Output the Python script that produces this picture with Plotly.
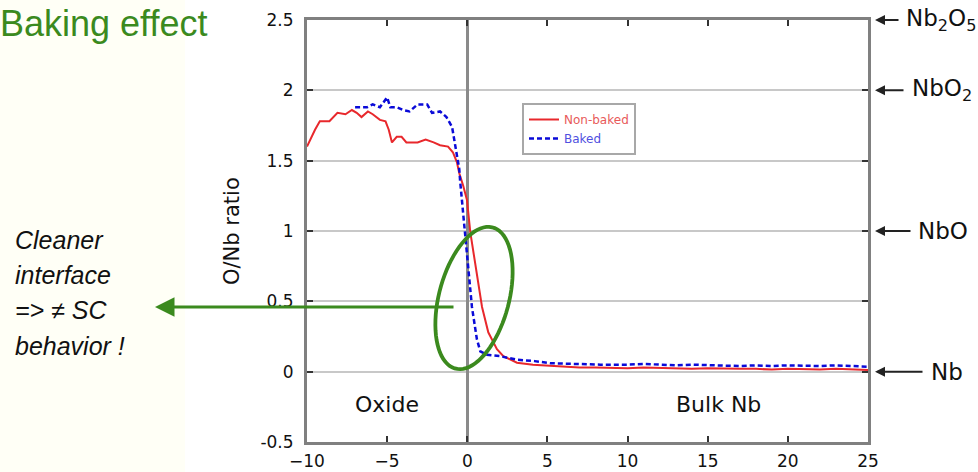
import numpy as np
import plotly.graph_objects as go

# ---------------- data ----------------
nonbaked_x = [-10, -9.8, -9.5, -9.2, -8.6, -8.1, -7.6, -7.2, -6.9, -6.6, -6.2, -5.9, -5.45, -5.1,
              -4.9, -4.7, -4.4, -4.1, -3.8, -3.1, -2.6, -2.1, -1.7, -1.2, -0.9, -0.65, -0.5, -0.25,
              -0.02, 0.19, 0.5, 0.92, 1.31, 1.85, 2.25, 3.1, 4.1, 5.8,
              7, 8, 9, 10, 11, 12, 13, 14, 15, 16, 17, 18, 19, 20, 21, 22, 23, 24, 25]
nonbaked_y = [1.60, 1.65, 1.72, 1.78, 1.78, 1.84, 1.83, 1.86, 1.84, 1.81, 1.85, 1.83, 1.79, 1.78,
              1.72, 1.63, 1.67, 1.67, 1.63, 1.63, 1.65, 1.63, 1.61, 1.60, 1.56, 1.49, 1.41, 1.32,
              1.22, 0.99, 0.77, 0.46, 0.28, 0.16, 0.11, 0.064, 0.05, 0.036,
              0.03, 0.03, 0.025, 0.025, 0.03, 0.025, 0.02, 0.02, 0.025, 0.02, 0.02, 0.02, 0.015,
              0.02, 0.015, 0.015, 0.02, 0.015, 0.012]

baked_x = [-7.0, -6.6, -6.25, -5.9, -5.45, -5.0, -4.8, -4.4, -4.0, -3.6, -3.1, -2.5, -2.2, -1.7,
           -1.3, -0.95, -0.85, -0.75, -0.65, -0.5, -0.45, -0.33, -0.12, 0.08, 0.29, 0.6, 0.81,
           1.23, 2.06, 3.1, 4.2, 5.2, 6.5, 8.3,
           10, 11, 12, 13, 14, 15, 16, 17, 18, 19, 20, 21, 22, 23, 24, 25]
baked_y = [1.88, 1.88, 1.88, 1.90, 1.88, 1.95, 1.88, 1.88, 1.86, 1.85, 1.90, 1.90, 1.84, 1.85,
           1.81, 1.74, 1.67, 1.60, 1.53, 1.44, 1.36, 1.22, 0.99, 0.75, 0.46, 0.23, 0.145,
           0.12, 0.11, 0.085, 0.075, 0.06, 0.055, 0.05,
           0.05, 0.055, 0.05, 0.045, 0.05, 0.045, 0.045, 0.04, 0.045, 0.04, 0.045, 0.04, 0.04,
           0.045, 0.04, 0.035]

x_ticks = [-10, -5, 0, 5, 10, 15, 20, 25]
y_ticks = [-0.5, 0, 0.5, 1, 1.5, 2, 2.5]
phase_levels = [2.5, 2, 1, 0]
phase_labels = ["Nb<sub>2</sub>O<sub>5</sub>", "NbO<sub>2</sub>", "NbO", "Nb"]
region_labels = ["Oxide", "Bulk Nb"]
region_pos = [(-5.0, -0.23), (15.7, -0.23)]
side_lines = ["Cleaner", "interface", "=> \u2260 SC", "behavior !"]

# ---------------- geometry ----------------
W, H = 978, 472
L, R, T, B = 307, 110, 20, 30
PW, PH = W - L - R, H - T - B
XR = [-10, 25]
YR = [-0.5, 2.5]


def pxx(px):
    return (px - L) / PW


def pyy(py):
    return (H - B - py) / PH


def d_from_px(px, py):
    return (XR[0] + (px - L) / PW * (XR[1] - XR[0]),
            YR[0] + (H - B - py) / PH * (YR[1] - YR[0]))


GREEN = "#3b8a1e"

fig = go.Figure()
fig.add_trace(go.Scatter(x=nonbaked_x, y=nonbaked_y, mode="lines",
                         name='<span style="color:#e85a5a">Non-baked</span>',
                         line=dict(color="#e8282c", width=2)))
fig.add_trace(go.Scatter(x=baked_x, y=baked_y, mode="lines",
                         name='<span style="color:#5050e0">Baked</span>',
                         line=dict(color="#0a0ad8", width=2.5, dash="5px,3px")))

shapes = []
# cream side panel
shapes.append(dict(type="rect", xref="paper", yref="paper",
                   x0=pxx(0), x1=pxx(185), y0=pyy(H), y1=pyy(0),
                   fillcolor="#fffff6", line=dict(width=0), layer="below"))
# ellipse highlight
cx, cy, a, b, th = 474, 298, 73, 35, np.deg2rad(14.8)
t = np.linspace(0, 2 * np.pi, 80)
ex = cx + b * np.cos(t) * np.cos(th) - a * np.sin(t) * np.sin(th)
ey = cy + b * np.cos(t) * np.sin(th) + a * np.sin(t) * np.cos(th)
pts = [d_from_px(u, v) for u, v in zip(ex, ey)]
path = "M " + " L ".join(f"{p[0]:.4f},{p[1]:.4f}" for p in pts) + " Z"
shapes.append(dict(type="path", xref="x", yref="y", path=path,
                   line=dict(color=GREEN, width=3.8)))

annotations = []
# title
annotations.append(dict(text="Baking effect", xref="paper", yref="paper",
                        x=pxx(-2), y=pyy(24), xanchor="left", yanchor="middle",
                        showarrow=False,
                        font=dict(family="Liberation Sans, Arial", size=36, color=GREEN)))
# side text
for line, yc in zip(side_lines, [240, 275, 310, 346]):
    annotations.append(dict(text=f"<i>{line}</i>", xref="paper", yref="paper",
                            x=pxx(13), y=pyy(yc), xanchor="left", yanchor="middle",
                            showarrow=False,
                            font=dict(family="Liberation Sans, Arial", size=25, color="#111")))
# green arrow
annotations.append(dict(text="", xref="paper", yref="paper", x=pxx(155), y=pyy(307),
                        ax=300, ay=0, showarrow=True, arrowhead=2, arrowsize=1.3,
                        arrowwidth=3, arrowcolor=GREEN))
# y-axis title
annotations.append(dict(text="O/Nb ratio", xref="paper", yref="paper",
                        x=pxx(232), y=0.5, textangle=-90, showarrow=False,
                        xanchor="center", yanchor="middle",
                        font=dict(family="DejaVu Sans", size=21, color="#111")))
# region labels
for lab, (rx, ry) in zip(region_labels, region_pos):
    annotations.append(dict(text=lab, x=rx, y=ry, xref="x", yref="y", showarrow=False,
                            font=dict(family="DejaVu Sans", size=22, color="#111")))
# phase labels and arrows on the right
tails = [900, 905, 912, 924]
text_x = [904, 910, 916, 929]
for lev, lab, tx, xx in zip(phase_levels, phase_labels, tails, text_x):
    yp = (lev - YR[0]) / (YR[1] - YR[0])
    annotations.append(dict(text="", xref="paper", yref="paper", x=pxx(875), y=yp,
                            ax=tx - 875, ay=0, showarrow=True, arrowhead=2,
                            arrowsize=1, arrowwidth=2, arrowcolor="#222"))
    annotations.append(dict(text=lab, xref="paper", yref="paper", x=pxx(xx), y=yp,
                            xanchor="left", yanchor="middle", showarrow=False,
                            font=dict(family="DejaVu Sans", size=23, color="#111")))

axis_common = dict(showline=True, linecolor="#808080", linewidth=3, mirror="ticks",
                   ticks="inside", ticklen=6, tickwidth=2, tickcolor="#333",
                   automargin=False,
                   tickfont=dict(family="DejaVu Sans", size=17, color="#111"))

fig.update_layout(
    width=W, height=H,
    margin=dict(l=L, r=R, t=T, b=B),
    paper_bgcolor="white", plot_bgcolor="white",
    shapes=shapes, annotations=annotations,
    showlegend=True,
    legend=dict(x=pxx(522), y=pyy(103), xanchor="left", yanchor="top",
                bgcolor="white", bordercolor="#a8a8a8", borderwidth=2,
                font=dict(family="DejaVu Sans", size=12), tracegroupgap=0,
                itemwidth=30),
    xaxis=dict(range=XR, tickvals=x_ticks, showgrid=False, zeroline=True,
               zerolinecolor="#8a8a8a", zerolinewidth=2.5, ticklabelstandoff=2,
               **axis_common),
    yaxis=dict(range=YR, tickvals=y_ticks, ticktext=[f"{v:g}" for v in y_ticks],
               showgrid=True, gridcolor="#c8c8c8", gridwidth=2, zeroline=False,
               ticklabelstandoff=7, **axis_common),
)

fig.write_html("out.html", config={"displayModeBar": False},
               post_script="document.body.style.margin='0';document.body.style.overflow='hidden';")
